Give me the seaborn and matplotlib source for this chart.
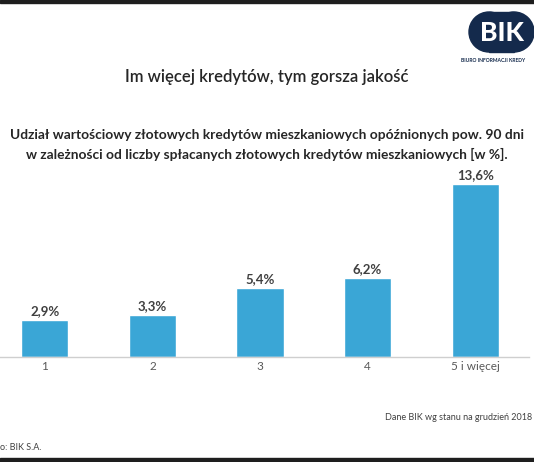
import pandas as pd
import matplotlib.pyplot as plt
import seaborn as sns
from matplotlib.patches import Circle, Rectangle

# Data
categories = ["1", "2", "3", "4", "5 i więcej"]
shares = [2.9, 3.3, 5.4, 6.2, 13.6]
value_labels = ["2,9%", "3,3%", "5,4%", "6,2%", "13,6%"]

df = pd.DataFrame({"liczba": categories, "udzial": shares})

sns.set_theme(style="white")
plt.rcParams["font.family"] = ["Lato", "DejaVu Sans"]

W, H = 534, 462
fig = plt.figure(figsize=(W / 100, H / 100), dpi=100)
fig.patch.set_facecolor("white")


def fx(px):
    return px / W


def fy(py):
    return 1 - py / H


# Chart area
ax = fig.add_axes([fx(-9), fy(357), fx(538), 178 / H])
sns.barplot(
    data=df, x="liczba", y="udzial", hue="liczba",
    palette=["#3aa6d6"] * len(categories), width=0.44,
    legend=False, saturation=1, ax=ax,
)
ax.set_xlim(-0.5, len(categories) - 0.5)
ax.set_ylim(0, 14)
ax.set_xlabel("")
ax.set_ylabel("")
ax.set_yticks([])
for s in ["left", "top", "right"]:
    ax.spines[s].set_visible(False)
ax.spines["bottom"].set_color("#cfcfcf")
ax.spines["bottom"].set_linewidth(1)
ax.tick_params(axis="x", which="major", length=0, labelsize=8.5,
               labelcolor="#595959", pad=3)
ax.set_xticks([i + 0.5 for i in range(len(categories) - 1)], minor=True)
ax.tick_params(axis="x", which="minor", length=4, color="#cfcfcf", width=1)

for i, (v, lab) in enumerate(zip(shares, value_labels)):
    ax.annotate(lab, (i, v), xytext=(0, 2), textcoords="offset points",
                ha="center", va="bottom", fontsize=9.5, fontweight="bold",
                color="#404040")

# Titles
fig.text(0.5, fy(77), "Im więcej kredytów, tym gorsza jakość", ha="center",
         va="center", fontsize=12, color="#262626", fontweight="semibold")
fig.text(0.5, fy(135),
         "Udział wartościowy złotowych kredytów mieszkaniowych opóźnionych pow. 90 dni",
         ha="center", va="center", fontsize=9.9, fontweight="bold", color="#262626")
fig.text(0.5, fy(154),
         "w zależności od liczby spłacanych złotowych kredytów mieszkaniowych [w %].",
         ha="center", va="center", fontsize=9.9, fontweight="bold", color="#262626")

# Footer notes
fig.text(fx(532), fy(418), "Dane BIK wg stanu na grudzień 2018", ha="right",
         va="center", fontsize=6.5, color="#404040")
fig.text(fx(0), fy(447), "o: BIK S.A.", ha="left", va="center",
         fontsize=6.5, color="#404040")

# Dark frame edges
fig.patches.append(Rectangle((0, fy(3)), 1, 3 / H, transform=fig.transFigure,
                             color="#1e1e1e", zorder=0))
fig.patches.append(Rectangle((0, 0), 1, 4 / H, transform=fig.transFigure,
                             color="#1e1e1e", zorder=0))

# BIK logo
logo = fig.add_axes([fx(440), fy(70), fx(94), 70 / H])
logo.set_xlim(440, 534)
logo.set_ylim(70, 0)
logo.set_aspect("equal")
logo.axis("off")
navy = "#142a4c"
logo.add_patch(Circle((489, 32), 20, color=navy))
logo.add_patch(Circle((514, 32), 20, color=navy))
logo.add_patch(Rectangle((489, 12), 25, 40, color=navy))
logo.text(502, 33, "BIK", ha="center", va="center", fontsize=19,
          fontweight="black", color="white")
logo.text(493, 61, "BIURO INFORMACJI KREDY", ha="center", va="center",
          fontsize=3.6, color="#142a4c", fontweight="bold")

fig.savefig("out.png", dpi=100)
